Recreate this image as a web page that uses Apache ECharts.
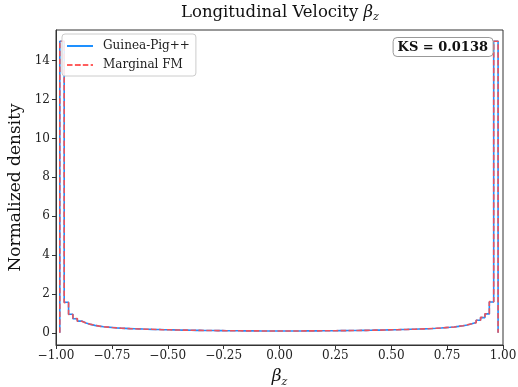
<!DOCTYPE html>
<html>
<head>
<meta charset="utf-8">
<script src="https://cdn.jsdelivr.net/npm/echarts@6/dist/echarts.min.js"></script>
<style>
  html, body { margin: 0; padding: 0; background: #fff; }
  #chart { width: 518px; height: 387px; }
</style>
</head>
<body>
<div id="chart"></div>
<script>
// histogram bins (100 bins) of beta_z
var binStart = -0.983;
var binEnd = 0.978;
var nBins = 100;

// Guinea-Pig++ density, read bin by bin from the picture
var gpValues = [
  15, 1.57, 0.95, 0.72, 0.6, 0.5, 0.43, 0.38, 0.34, 0.31,
  0.29, 0.27, 0.25, 0.235, 0.225, 0.215, 0.205, 0.198, 0.19, 0.183,
  0.176, 0.17, 0.164, 0.158, 0.152, 0.147, 0.142, 0.137, 0.133, 0.129,
  0.125, 0.122, 0.119, 0.116, 0.113, 0.11, 0.108, 0.106, 0.104, 0.102,
  0.1, 0.098, 0.097, 0.096, 0.095, 0.094, 0.093, 0.092, 0.092, 0.091,
  0.091, 0.092, 0.092, 0.093, 0.094, 0.095, 0.096, 0.097, 0.098, 0.1,
  0.102, 0.104, 0.106, 0.108, 0.11, 0.113, 0.116, 0.119, 0.122, 0.125,
  0.129, 0.133, 0.137, 0.142, 0.147, 0.152, 0.158, 0.164, 0.17, 0.177,
  0.184, 0.192, 0.2, 0.21, 0.22, 0.232, 0.246, 0.262, 0.28, 0.3,
  0.33, 0.36, 0.4, 0.46, 0.53, 0.64, 0.78, 0.97, 1.58, 15
];

// Marginal FM density
var fmValues = [
  15, 1.55, 0.94, 0.73, 0.59, 0.5, 0.44, 0.38, 0.34, 0.31,
  0.29, 0.27, 0.252, 0.236, 0.224, 0.214, 0.206, 0.197, 0.19, 0.184,
  0.177, 0.17, 0.163, 0.158, 0.153, 0.147, 0.141, 0.137, 0.134, 0.129,
  0.126, 0.122, 0.118, 0.116, 0.114, 0.111, 0.108, 0.105, 0.104, 0.103,
  0.1, 0.099, 0.097, 0.095, 0.095, 0.094, 0.092, 0.092, 0.093, 0.091,
  0.092, 0.092, 0.091, 0.093, 0.094, 0.096, 0.096, 0.097, 0.099, 0.1,
  0.101, 0.104, 0.107, 0.108, 0.11, 0.112, 0.116, 0.12, 0.122, 0.124,
  0.129, 0.134, 0.137, 0.141, 0.147, 0.153, 0.158, 0.163, 0.171, 0.177,
  0.183, 0.192, 0.201, 0.209, 0.221, 0.232, 0.245, 0.263, 0.28, 0.3,
  0.33, 0.36, 0.41, 0.46, 0.52, 0.64, 0.79, 0.98, 1.6, 15
];

var xTicks = [-1, -0.75, -0.5, -0.25, 0, 0.25, 0.5, 0.75, 1];
var yTicks = [0, 2, 4, 6, 8, 10, 12, 14];
var ksText = 'KS = 0.0138';

// step outline like matplotlib histtype='step'
function stepPoints(vals) {
  var w = (binEnd - binStart) / nBins;
  var pts = [[binStart, 0]];
  for (var i = 0; i < vals.length; i++) {
    pts.push([binStart + i * w, vals[i]]);
    pts.push([binStart + (i + 1) * w, vals[i]]);
  }
  pts.push([binEnd, 0]);
  return pts;
}

function fmtNum(v, d) {
  var s = Math.abs(v).toFixed(d);
  return v < 0 ? '\u2212' + s : s;
}

var serif = 'DejaVu Serif';
var myChart = echarts.init(document.getElementById('chart'));

var option = {
  animation: false,
  backgroundColor: '#fff',
  title: [
    {
      // centred over the plot area, not the canvas
      text: '{t|Longitudinal Velocity }{b|β}{s|z}',
      left: 181,
      top: 2,
      padding: 0,
      textStyle: {
        fontWeight: 'normal',
        rich: {
          t: {fontFamily: serif, fontWeight: 'normal', fontSize: 16.5, color: '#111', lineHeight: 21, verticalAlign: 'middle'},
          b: {fontFamily: serif, fontWeight: 'normal', fontStyle: 'italic', fontSize: 16.5, color: '#111', lineHeight: 21, verticalAlign: 'middle'},
          s: {fontFamily: serif, fontWeight: 'normal', fontStyle: 'italic', fontSize: 11, color: '#111', lineHeight: 12, verticalAlign: 'bottom', padding: [6, 0, 0, 0]}
        }
      }
    },
    {
      text: ksText,
      right: 25,
      top: 37,
      padding: [4, 5, 3, 5],
      borderColor: '#999',
      borderWidth: 1,
      borderRadius: 4,
      backgroundColor: '#fff',
      textStyle: {fontFamily: serif, fontWeight: 'bold', fontSize: 13, color: '#111'}
    }
  ],
  legend: {
    left: 62,
    top: 34,
    orient: 'vertical',
    itemWidth: 26,
    itemHeight: 2,
    itemGap: 7,
    padding: [6, 6, 5, 4],
    borderColor: '#ccc',
    borderWidth: 1,
    borderRadius: 3,
    backgroundColor: 'rgba(255,255,255,0.85)',
    textStyle: {fontFamily: serif, fontSize: 12, color: '#222', padding: [0, 0, 0, 5]},
    data: ['Guinea-Pig++', 'Marginal FM']
  },
  grid: {
    left: 56,
    right: 15,
    top: 30,
    bottom: 42,
    outerBoundsMode: 'none',
    containLabel: false,
    show: true,
    borderColor: '#333',
    borderWidth: 1
  },
  xAxis: {
    type: 'value',
    min: -1,
    max: 1,
    interval: 0.25,
    name: '{b|β}{s|z}',
    nameLocation: 'middle',
    nameGap: 21,
    nameTextStyle: {
      rich: {
        b: {fontFamily: serif, fontStyle: 'italic', fontSize: 17, color: '#111', lineHeight: 22, verticalAlign: 'middle'},
        s: {fontFamily: serif, fontStyle: 'italic', fontSize: 11, color: '#111', lineHeight: 12, verticalAlign: 'bottom', padding: [7, 0, 0, 0]}
      }
    },
    splitLine: {show: false},
    axisLine: {onZero: false, lineStyle: {color: '#333', width: 1}},
    axisTick: {show: true, inside: false, length: 4, lineStyle: {color: '#333'}},
    axisLabel: {
      fontFamily: serif, fontSize: 12, color: '#222', margin: 5,
      formatter: function (v) { return fmtNum(v, 2); }
    }
  },
  yAxis: {
    type: 'value',
    min: -0.63,
    max: 15.58,
    name: 'Normalized density',
    nameLocation: 'middle',
    nameGap: 28,
    nameTextStyle: {fontFamily: serif, fontSize: 17, color: '#111'},
    splitLine: {show: false},
    axisLine: {show: true, onZero: false, lineStyle: {color: '#333', width: 1}},
    axisTick: {show: true, inside: false, length: 4, customValues: yTicks, lineStyle: {color: '#333'}},
    axisLabel: {
      fontFamily: serif, fontSize: 12, color: '#222', margin: 6,
      customValues: yTicks,
      formatter: function (v) { return fmtNum(v, 0); }
    }
  },
  series: [
    {
      name: 'Guinea-Pig++',
      type: 'line',
      data: stepPoints(gpValues),
      symbol: 'none',
      color: '#1e90ff',
      lineStyle: {color: '#1e90ff', width: 1.6}
    },
    {
      name: 'Marginal FM',
      type: 'line',
      data: stepPoints(fmValues),
      symbol: 'none',
      color: '#ff4d4d',
      lineStyle: {color: '#ff4d4d', width: 1.6, type: [5.5, 2.4], opacity: 0.9}
    }
  ]
};

myChart.setOption(option);
</script>
</body>
</html>
